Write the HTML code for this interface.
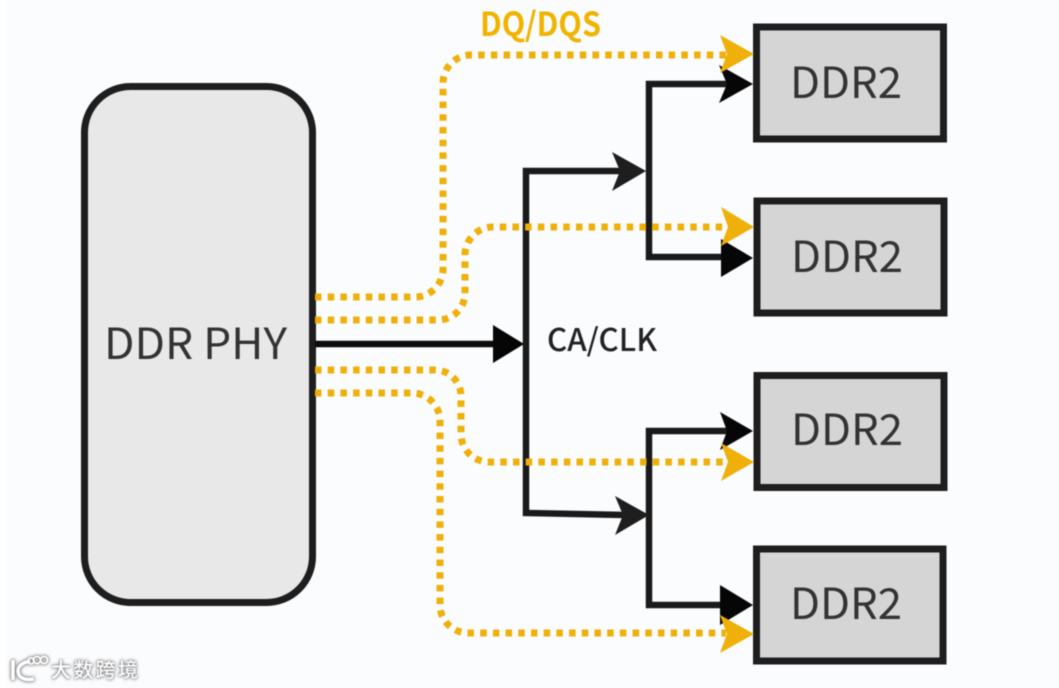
<!DOCTYPE html>
<html><head><meta charset="utf-8"><style>
html,body{margin:0;padding:0;background:#fbfcfe}
svg{display:block;filter:blur(.45px)}
text{font-family:"Noto Sans CJK SC","Liberation Sans",sans-serif}
</style></head><body>
<svg width="1059" height="688" viewBox="0 0 1059 688" xmlns="http://www.w3.org/2000/svg">
<rect width="1059" height="688" fill="#fbfcfe"/>
<rect x="0" y="0" width="6" height="688" fill="#ffffff"/>
<rect x="84.500" y="86.500" width="228" height="516" rx="46" fill="#e8e8e8" stroke="#1e1e1e" stroke-width="7"/>
<g fill="#d5d5d5" stroke="#1e1e1e" stroke-width="7">
<rect x="756.500" y="27" width="187" height="112"/>
<rect x="757" y="201" width="187" height="112"/>
<rect x="757" y="375.500" width="187" height="112"/>
<rect x="756.500" y="549" width="186.500" height="112"/>
</g>
<g fill="#333333" font-size="43" font-weight="400">
<text x="104" y="359" textLength="183" lengthAdjust="spacingAndGlyphs">DDR PHY</text>
<text x="790" y="98" textLength="112" lengthAdjust="spacingAndGlyphs">DDR2</text>
<text x="791" y="272" textLength="112" lengthAdjust="spacingAndGlyphs">DDR2</text>
<text x="791" y="445" textLength="112" lengthAdjust="spacingAndGlyphs">DDR2</text>
<text x="790" y="619" textLength="112" lengthAdjust="spacingAndGlyphs">DDR2</text>
</g>
<text x="547" y="351" font-size="31" font-weight="500" fill="#222222" textLength="110" lengthAdjust="spacingAndGlyphs">CA/CLK</text>
<text x="480" y="36" font-size="33" font-weight="700" fill="#f0b400" textLength="121" lengthAdjust="spacingAndGlyphs">DQ/DQS</text>
<g fill="none" stroke="#1a1a1a" stroke-width="6.500">
<path d="M315 344H500" stroke="#0c0c0c"/>
<path d="M625 171H526V513L625 515"/>
<path d="M730 84H649V257H730"/>
<path d="M730 431H649V605H730"/>
</g>
<g fill="#1e1e1e">
<polygon points="612,152 646,171 612,191 620,171"/>
<polygon points="615,496 649,515 615,535 623,515"/>
</g>
<g fill="#060606">
<polygon points="493,325 524,344 493,363"/>
<polygon points="719,65 753,84 719,103 727,84"/>
<polygon points="721,239 753,258 721,277"/>
<polygon points="720,412 753,431 720,450 727,431"/>
<polygon points="720,585 753,605 720,625"/>
</g>
<g fill="none" stroke="#f0b00a" stroke-width="7" stroke-dasharray="6.500 6.200">
<path d="M315 297H415A28 28 0 0 0 443 269V83A28 28 0 0 1 471 55H726"/>
<path d="M315 320H438A27 27 0 0 0 465 293V255A28 28 0 0 1 493 227H726"/>
<path d="M315 370H435A26 26 0 0 1 461 396V434A28 28 0 0 0 489 462H726"/>
<path d="M315 393H412A28 28 0 0 1 440 421V605A28 28 0 0 0 468 633H726"/>
</g>
<g fill="#f0b00a">
<polygon points="720,35 754,54 720,73 727,54"/>
<polygon points="721,207 754,227 721,246 728,227"/>
<polygon points="721,443 754,462 721,481 728,462"/>
<polygon points="720,615 754,634 720,653 727,634"/>
</g>
<g style="filter:drop-shadow(0 0 1.500px #777) drop-shadow(0 0 .6px #999)">
<text x="51" y="677" font-size="20" font-weight="500" fill="#ffffff" textLength="87" lengthAdjust="spacing">大数跨境</text>
<g fill="none" stroke="#ffffff" stroke-width="3.500">
<path d="M13 660V680"/>
<path d="M30 661C21 663 18 667 18 671C18 677 24 681 34 679"/>
</g>
<g fill="none" stroke="#ffffff" stroke-width="1.800">
<circle cx="31" cy="661" r="3"/>
<circle cx="37" cy="660" r="3.500"/>
<circle cx="44" cy="660" r="3.500"/>
</g>
</g>
</svg>
</body></html>
